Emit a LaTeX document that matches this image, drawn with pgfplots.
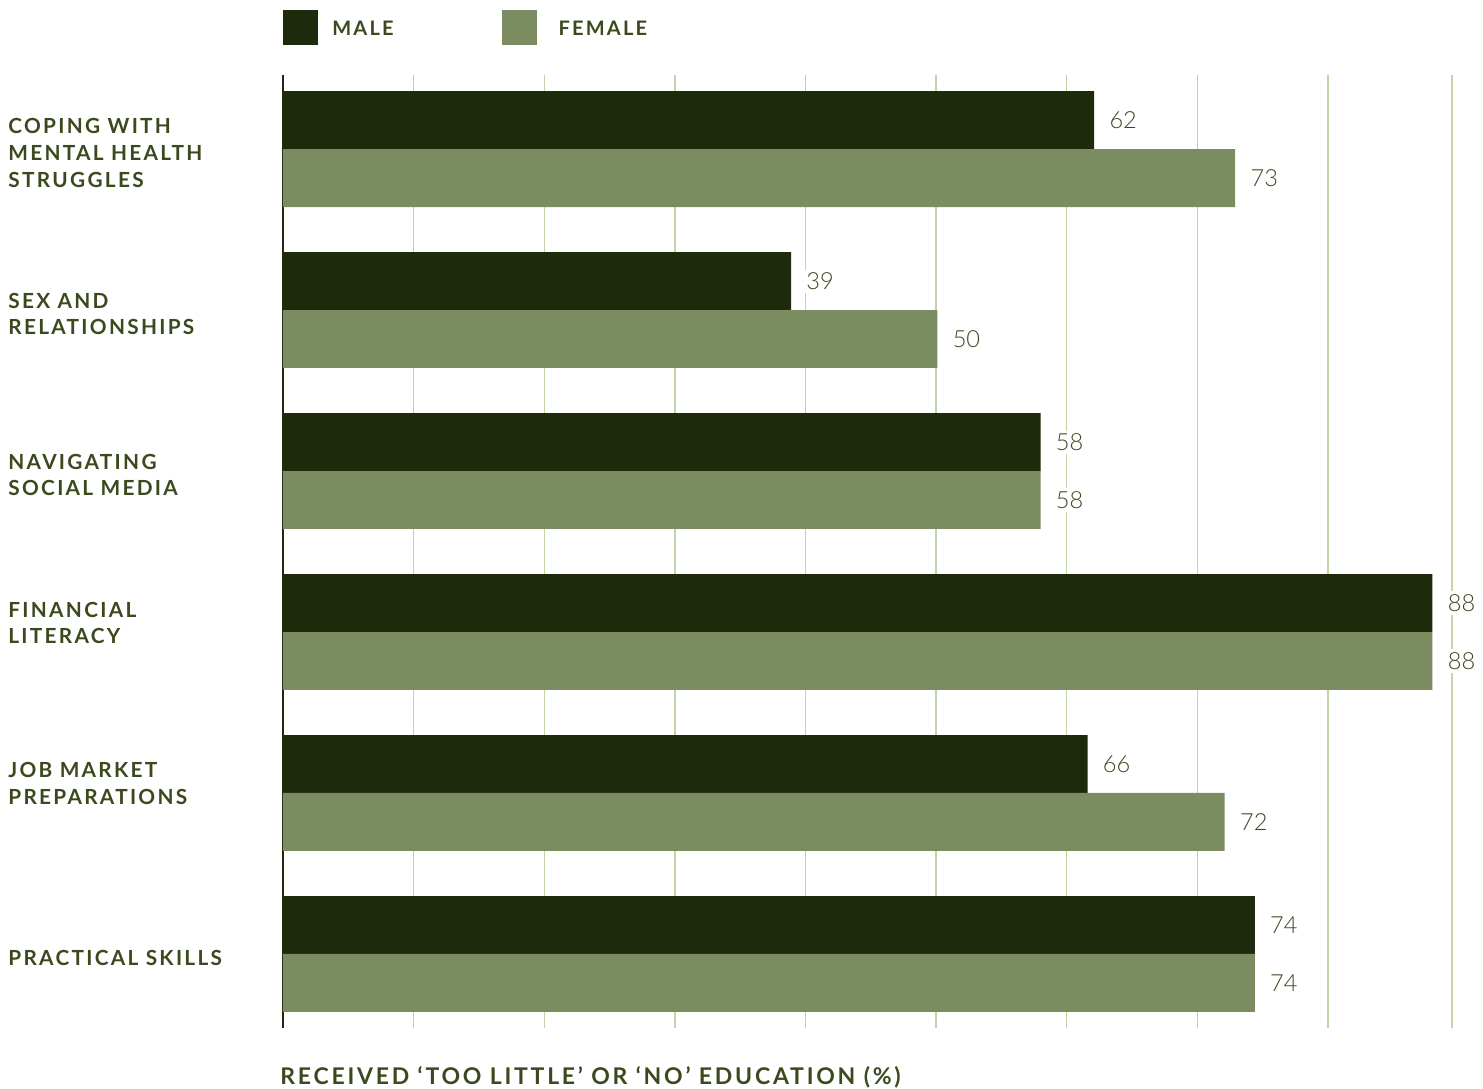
\documentclass[border=0pt]{standalone}
\usepackage{pgfplots}
\usepackage{pgfplotstable}
\pgfplotsset{compat=1.18}
\usepackage{fontspec}
\setmainfont{Lato}
\newfontfamily\capfont[LetterSpace=11]{Lato}
\newfontfamily\xlabfont[LetterSpace=12]{Lato}
\newfontfamily\numfont{Lato Light}
\definecolor{male}{HTML}{1D2A0C}
\definecolor{female}{HTML}{7B8C60}
\definecolor{txt}{HTML}{3B4A1E}
\definecolor{gridc}{HTML}{C2D5A4}

\pgfplotstableread{
y male mlab female flab
0 62.1 62 72.9 73
1 38.9 39 50.1 50
2 58.0 58 58.0 58
3 88.0 88 88.0 88
4 61.6 66 72.1 72
5 74.4 74 74.4 74
}\datatable

\begin{document}
\begin{tikzpicture}
\begin{axis}[
  name=ax,
  scale only axis, width=584.5pt, height=476.5pt,
  xbar, bar width=0.36,
  xmin=0, xmax=89.5, ymin=-0.46, ymax=5.46, y dir=reverse,
  axis line style={draw=none},
  major tick length=0pt,
  xtick={10,20,30,40,50,60,70,80,89.5},
  xticklabels={},
  extra x ticks={0},
  extra x tick labels={},
  extra x tick style={grid style={draw=male, line width=0.8pt}},
  xmajorgrids,
  grid style={draw=gridc, line width=0.7pt},
  ytick={0,1,2,3,4,5},
  yticklabels={{COPING WITH\\MENTAL HEALTH\\STRUGGLES},{SEX AND\\RELATIONSHIPS},{NAVIGATING\\SOCIAL MEDIA},{FINANCIAL\\LITERACY\\\mbox{}},{JOB MARKET\\PREPARATIONS\\\mbox{}},{PRACTICAL SKILLS}},
  yticklabel style={anchor=west, align=left, xshift=-137.5pt, yshift=-2pt, inner sep=0pt,
    font=\capfont\bfseries\fontsize{10.4}{13.3}\selectfont, text=txt},
  xlabel={RECEIVED ‘TOO LITTLE’ OR ‘NO’ EDUCATION (\%)},
  xlabel style={at={(rel axis cs:0,0)}, anchor=north west, yshift=-19pt, xshift=-1.5pt, inner sep=0pt,
    font=\xlabfont\bfseries\fontsize{11.5}{13}\selectfont, text=txt},
  nodes near coords,
  point meta=explicit symbolic,
  nodes near coords style={anchor=west, font=\numfont\fontsize{11.8}{12}\selectfont, text=txt,
    fill=white, inner sep=1.5pt, xshift=6pt},
  legend columns=2,
  legend style={at={(rel axis cs:0,1)}, anchor=south west, yshift=15pt, draw=none, fill=none,
    inner sep=0pt, nodes={inner sep=0pt},
    font=\capfont\bfseries\fontsize{10}{12}\selectfont, text=txt,
    /tikz/column 1/.style={column sep=7pt},
    /tikz/column 2/.style={column sep=54pt},
    /tikz/column 3/.style={column sep=11pt}},
  legend image code/.code={\fill[#1,draw=none] (0pt,-7.65pt) rectangle (17.5pt,9.85pt);},
]
\addplot[fill=male, draw=none, bar shift=-0.18] table[x=male, y=y, meta=mlab]{\datatable};
\addplot[fill=female, draw=none, bar shift=0.18] table[x=female, y=y, meta=flab]{\datatable};
\legend{MALE, FEMALE}
\end{axis}
\pgfresetboundingbox
\path ([xshift=-141.5pt,yshift=-30pt]ax.south west) rectangle ([xshift=15.5pt,yshift=37.5pt]ax.north east);
\end{tikzpicture}
\end{document}
